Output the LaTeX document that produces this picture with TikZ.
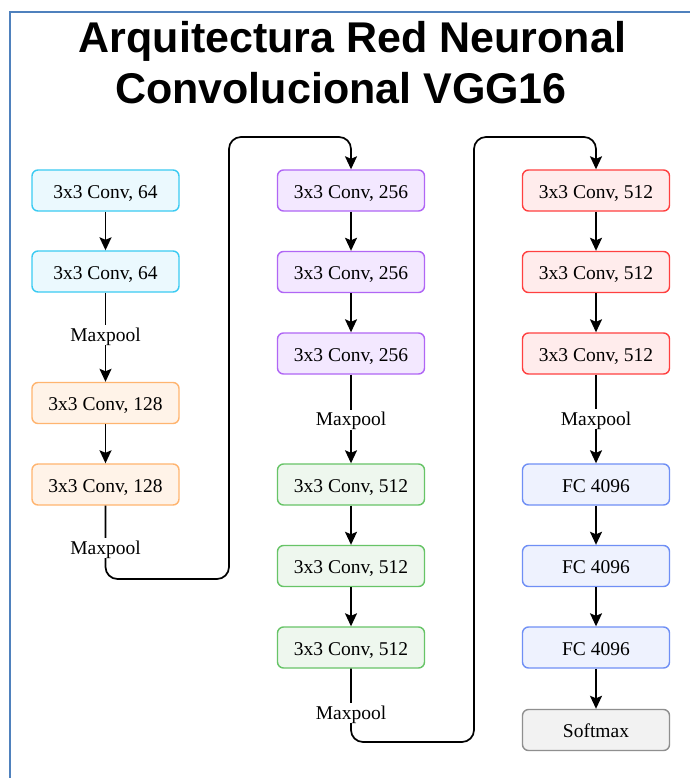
\documentclass[tikz,border=0pt]{standalone}
\usepackage{fontspec}
\setmainfont{Liberation Serif}
\newfontfamily\titlefont{Liberation Sans}
\usetikzlibrary{arrows.meta}
\definecolor{frameblue}{HTML}{4F81BD}
\definecolor{cyanD}{HTML}{3BCBF2}\definecolor{cyanF}{HTML}{EBF9FE}
\definecolor{orangeD}{HTML}{FFB570}\definecolor{orangeF}{HTML}{FFF3E8}
\definecolor{purpleD}{HTML}{B066F5}\definecolor{purpleF}{HTML}{F3E8FF}
\definecolor{greenD}{HTML}{67C467}\definecolor{greenF}{HTML}{EEF7EE}
\definecolor{redD}{HTML}{FF4040}\definecolor{redF}{HTML}{FFECEC}
\definecolor{blueD}{HTML}{6F8FF5}\definecolor{blueF}{HTML}{EEF2FE}
\definecolor{grayD}{HTML}{8F8F8F}\definecolor{grayF}{HTML}{F2F2F2}
\begin{document}
\begin{tikzpicture}[x=1pt,y=-1pt,
  box/.style={rounded corners=6pt, line width=1.4pt, minimum width=147pt,
    minimum height=41pt, inner sep=0pt, text height=15pt, text depth=0pt,
    font=\fontsize{19.5}{22}\selectfont},
  cyanbox/.style={box, draw=cyanD, fill=cyanF},
  orangebox/.style={box, draw=orangeD, fill=orangeF},
  purplebox/.style={box, draw=purpleD, fill=purpleF},
  greenbox/.style={box, draw=greenD, fill=greenF},
  redbox/.style={box, draw=redD, fill=redF},
  bluebox/.style={box, draw=blueD, fill=blueF},
  graybox/.style={box, draw=grayD, fill=grayF},
  arr/.style={line width=1.7pt, -{Stealth[length=13pt,width=12pt,inset=2.5pt]}},
  lbl/.style={fill=white, inner sep=2pt, text height=14pt, text depth=2pt,
    font=\fontsize{19.5}{22}\selectfont},
  titletext/.style={anchor=base, font=\titlefont\bfseries\fontsize{43}{50}\selectfont}]
\useasboundingbox (0,0) rectangle (690,778);
\fill[white] (0,0) rectangle (690,778);
\draw[frameblue, line width=2pt] (10,778) -- (10,12) -- (690,12);

\node[titletext] (title1) at (352.5,53) {Arquitectura Red Neuronal};
\node[titletext] (title2) at (341,104) {Convolucional VGG16};

% column 1
\node[cyanbox] (c1) at (105.5,190.5) {3x3 Conv, 64};
\node[cyanbox] (c2) at (105.5,271.5) {3x3 Conv, 64};
\node[orangebox] (o1) at (105.5,403) {3x3 Conv, 128};
\node[orangebox] (o2) at (105.5,484.5) {3x3 Conv, 128};
% column 2
\node[purplebox] (p1) at (351,190.5) {3x3 Conv, 256};
\node[purplebox] (p2) at (351,272) {3x3 Conv, 256};
\node[purplebox] (p3) at (351,353.5) {3x3 Conv, 256};
\node[greenbox] (g1) at (351,484.5) {3x3 Conv, 512};
\node[greenbox] (g2) at (351,566) {3x3 Conv, 512};
\node[greenbox] (g3) at (351,647.5) {3x3 Conv, 512};
% column 3
\node[redbox] (r1) at (596,190.5) {3x3 Conv, 512};
\node[redbox] (r2) at (596,272) {3x3 Conv, 512};
\node[redbox] (r3) at (596,353.5) {3x3 Conv, 512};
\node[bluebox] (f1) at (596,484.5) {FC 4096};
\node[bluebox] (f2) at (596,566) {FC 4096};
\node[bluebox] (f3) at (596,647.5) {FC 4096};
\node[graybox] (sm) at (596,730) {Softmax};

% connectors
\draw[arr] (c1) -- (c2);
\draw[arr] (c2) -- (o1);
\draw[arr] (o1) -- (o2);
\coordinate (t1a) at (105.5,579);
\coordinate (t1b) at (229,579);
\coordinate (t1c) at (229,137);
\coordinate (t1d) at (351,137);
\draw[arr, rounded corners=12pt] (o2.south) -- (t1a) -- (t1b) -- (t1c) -- (t1d) -- (p1.north);
\draw[arr] (p1) -- (p2);
\draw[arr] (p2) -- (p3);
\draw[arr] (p3) -- (g1);
\draw[arr] (g1) -- (g2);
\draw[arr] (g2) -- (g3);
\coordinate (t2a) at (351,742);
\coordinate (t2b) at (474,742);
\coordinate (t2c) at (474,137);
\coordinate (t2d) at (596,137);
\draw[arr, rounded corners=12pt] (g3.south) -- (t2a) -- (t2b) -- (t2c) -- (t2d) -- (r1.north);
\draw[arr] (r1) -- (r2);
\draw[arr] (r2) -- (r3);
\draw[arr] (r3) -- (f1);
\draw[arr] (f1) -- (f2);
\draw[arr] (f2) -- (f3);
\draw[arr] (f3) -- (sm);

% labels
\node[lbl] (mp1) at (105.5,335) {Maxpool};
\node[lbl] (mp2) at (105.5,548) {Maxpool};
\node[lbl] (mp3) at (351,419.5) {Maxpool};
\node[lbl] (mp4) at (351,713) {Maxpool};
\node[lbl] (mp5) at (596,419) {Maxpool};
\end{tikzpicture}
\end{document}
